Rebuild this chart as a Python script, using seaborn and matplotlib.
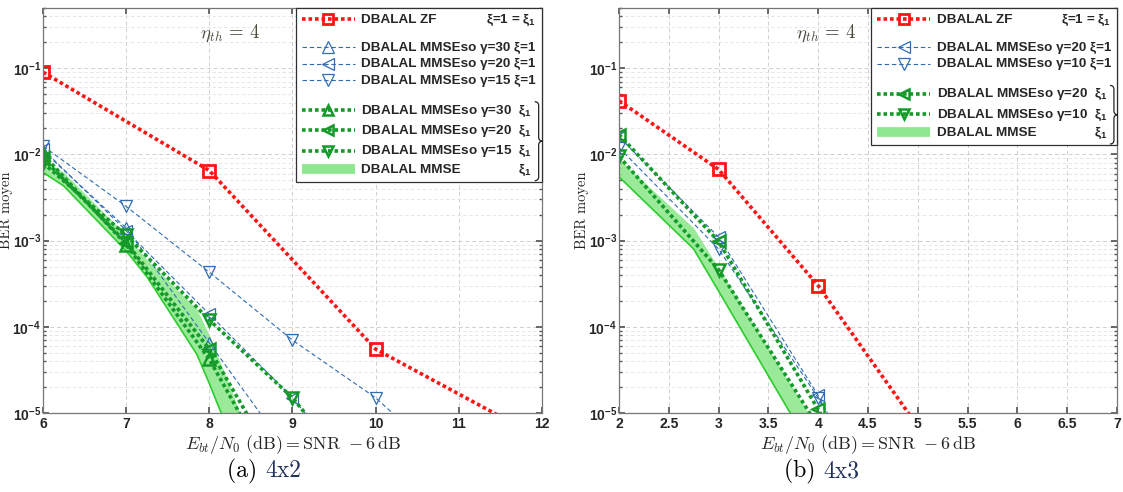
import numpy as np
import pandas as pd
import matplotlib
matplotlib.use("Agg")
import matplotlib.pyplot as plt
import seaborn as sns
from matplotlib.lines import Line2D
from matplotlib.path import Path
from matplotlib.patches import PathPatch
from matplotlib.ticker import LogLocator, MultipleLocator, NullFormatter, FuncFormatter

# ---------------- (a) 4x2 ----------------
zf_x_a = [6, 8, 10, 12]
zf_a = [9.0e-2, 6.5e-3, 5.5e-5, 5.0e-6]

b30_x_a = [6, 7, 8, 9]
b30_a = [1.10e-2, 1.40e-3, 6.5e-5, 3.0e-6]
b20_x_a = [6, 7, 8, 9, 10]
b20_a = [1.15e-2, 1.30e-3, 1.40e-4, 1.5e-5, 1.0e-6]
b15_x_a = [6, 7, 8, 9, 10, 11]
b15_a = [1.25e-2, 2.50e-3, 4.30e-4, 7.0e-5, 1.5e-5, 2.0e-6]

g30_x_a = [6, 7, 8, 9]
g30_a = [1.00e-2, 9.0e-4, 4.2e-5, 8.0e-7]
g20_x_a = [6, 7, 8, 9]
g20_a = [9.0e-3, 9.5e-4, 5.5e-5, 1.2e-6]
g15_x_a = [6, 7, 8, 9, 10]
g15_a = [8.0e-3, 1.15e-3, 1.2e-4, 1.5e-5, 1.0e-6]

band_x_a = [6, 6.25, 7, 7.25, 7.85, 8, 8.25, 8.5]
band_hi_a = [8.5e-3, 6.2e-3, 1.15e-3, 6.0e-4, 1.6e-4, 8.0e-5, 2.0e-5, 4.5e-6]
band_lo_a = [6.2e-3, 4.3e-3, 7.6e-4, 3.8e-4, 4.8e-5, 2.2e-5, 5.5e-6, 1.5e-6]

# ---------------- (b) 4x3 ----------------
zf_x_b = [2, 3, 4, 5]
zf_b = [4.2e-2, 6.7e-3, 3.0e-4, 7.0e-6]

b20_x_b = [2, 3, 4, 5]
b20_b = [1.6e-2, 1.1e-3, 1.6e-5, 1.0e-7]
b10_x_b = [2, 3, 4, 5]
b10_b = [1.2e-2, 8.0e-4, 1.5e-5, 1.0e-7]

g20_x_b = [2, 3, 4, 5]
g20_b = [1.7e-2, 9.8e-4, 1.1e-5, 1.0e-7]
g10_x_b = [2, 3, 4]
g10_b = [9.5e-3, 4.6e-4, 7.0e-6]

band_x_b = [2, 2.75, 3, 3.5, 4]
band_hi_b = [8.9e-3, 1.4e-3, 4.8e-4, 5.6e-5, 6.5e-6]
band_lo_b = [5.5e-3, 8.0e-4, 2.6e-4, 2.7e-5, 2.8e-6]

labels_a = ["DBALAL ZF", " ",
            "DBALAL MMSEso γ=30 ξ=1", "DBALAL MMSEso γ=20 ξ=1", "DBALAL MMSEso γ=15 ξ=1", " ",
            "DBALAL MMSEso γ=30  ξ$_\\mathdefault{1}$", "DBALAL MMSEso γ=20  ξ$_\\mathdefault{1}$",
            "DBALAL MMSEso γ=15  ξ$_\\mathdefault{1}$", "DBALAL MMSE"]
labels_b = ["DBALAL ZF", " ",
            "DBALAL MMSEso γ=20 ξ=1", "DBALAL MMSEso γ=10 ξ=1", " ",
            "DBALAL MMSEso γ=20  ξ$_\\mathdefault{1}$", "DBALAL MMSEso γ=10  ξ$_\\mathdefault{1}$",
            "DBALAL MMSE"]

RED = "#ff1414"
BLUE = "#2f6db3"
GREEN = "#139a28"
BAND = "#8fe88f"
BAND_EDGE = "#2bcc2b"
LEG_SIZE = 9.7

sns.set_theme(style="ticks")
plt.rcParams["font.family"] = ["Liberation Sans", "DejaVu Sans"]
plt.rcParams["font.weight"] = "bold"
plt.rcParams["mathtext.fontset"] = "dejavusans"

fig = plt.figure(figsize=(11.23, 4.92), dpi=100)
ax_a = fig.add_axes([43 / 1123, 1 - 413 / 492, 499 / 1123, 405 / 492])
ax_b = fig.add_axes([619 / 1123, 1 - 413 / 492, 498 / 1123, 405 / 492])


def curve(ax, x, y, kind, marker=None):
    if kind == "zf":
        st = dict(color=RED, linestyle=(0, (1, 0.8)), linewidth=2.6, marker=marker,
                  markersize=8, markeredgewidth=2.0)
    elif kind == "blue":
        st = dict(color=BLUE, linestyle=(0, (4, 2.5)), linewidth=0.8, marker=marker,
                  markersize=9, markeredgewidth=0.9)
    else:
        st = dict(color=GREEN, linestyle=(0, (1, 0.8)), linewidth=2.6, marker=marker,
                  markersize=8, markeredgewidth=1.8)
    sns.lineplot(x=x, y=y, ax=ax, markerfacecolor="none", markeredgecolor=st["color"],
                 sort=False, errorbar=None, **st)
    return Line2D([], [], markerfacecolor="none", markeredgecolor=st["color"],
                  **{**st, "markersize": st["markersize"] - 1})


def band(ax, x, lo, hi):
    ax.fill_between(x, lo, hi, color=BAND, alpha=0.9, linewidth=0)
    sns.lineplot(x=x, y=lo, ax=ax, color=BAND_EDGE, linewidth=1.2, sort=False, errorbar=None)
    return Line2D([], [], color=BAND, linewidth=7, solid_capstyle="butt")


def blank():
    return Line2D([], [], color="none")


def style_axes(ax, xmin, xmax, xstep):
    ax.set_yscale("log")
    ax.set_xlim(xmin, xmax)
    ax.set_ylim(1e-5, 0.5)
    ax.xaxis.set_major_locator(MultipleLocator(xstep))
    ax.xaxis.set_major_formatter(FuncFormatter(lambda v, p: "%g" % v))
    ax.yaxis.set_major_locator(LogLocator(base=10))
    ax.yaxis.set_minor_locator(LogLocator(base=10, subs=np.arange(2, 10)))
    ax.yaxis.set_minor_formatter(NullFormatter())
    ax.grid(True, which="major", color="#cfcfcf", linestyle=(0, (4, 3)), linewidth=0.7)
    ax.grid(True, which="minor", axis="y", color="#e2e2e2", linestyle=(0, (4, 3)), linewidth=0.6)
    ax.tick_params(which="both", direction="in", top=True, right=True, color="#555555",
                   labelsize=10, pad=3)
    ax.tick_params(axis="y", which="major", pad=1.5)
    ax.tick_params(which="major", length=4)
    ax.tick_params(which="minor", length=2)
    for lab in ax.get_xticklabels() + ax.get_yticklabels():
        lab.set_fontweight("bold")
    for sp in ax.spines.values():
        sp.set_color("#777777")
        sp.set_linewidth(0.9)
    ax.set_xlabel(r"$E_{bt}/N_0\ \mathrm{(dB)} = \mathrm{SNR}\ - 6\,\mathrm{dB}$",
                  fontsize=13, fontweight="normal", math_fontfamily="cm", labelpad=1)
    ax.set_ylabel("BER moyen", fontsize=10.5, fontweight="normal", family="cmr10")
    ax.yaxis.set_label_coords(-0.06, 0.5)


def finish_legend(ax, handles, labels, zf_row, blue_rows, green_rows, mmse_row):
    leg = ax.legend(handles, labels, loc="upper right", borderaxespad=0, fancybox=False,
                    edgecolor="#303030", framealpha=1, labelspacing=0.32,
                    handlelength=3.9, handletextpad=0.5, borderpad=0.45, handleheight=0.2,
                    prop={"weight": "bold", "size": LEG_SIZE})
    leg.get_frame().set_linewidth(0.9)
    for t in leg.get_texts():
        if t.get_text().strip() == "":
            t.set_fontsize(0.5)
    fig.canvas.draw()
    r = fig.canvas.get_renderer()
    inv = fig.transFigure.inverted()
    texts = leg.get_texts()

    def base(t):
        bb = t.get_window_extent(r)
        _, _, d = r.get_text_width_height_descent("lp", t.get_fontproperties(), ismath=False)
        return bb.y0 + d

    right_blue = max(texts[i].get_window_extent(r).x1 for i in blue_rows)
    x, y = inv.transform((right_blue, base(texts[zf_row])))
    fig.text(x, y, "ξ=1 = ξ$_\\mathdefault{1}$", ha="right", va="baseline", fontsize=LEG_SIZE,
             fontweight="bold")
    gbb = texts[green_rows[0]].get_window_extent(r)
    x, y = inv.transform((gbb.x1, base(texts[mmse_row])))
    fig.text(x, y, "ξ$_\\mathdefault{1}$", ha="right", va="baseline", fontsize=LEG_SIZE,
             fontweight="bold")
    # brace grouping the green rows
    x0 = gbb.x1 + 3
    yt = gbb.y1 + 1
    yb = texts[mmse_row].get_window_extent(r).y0 - 5
    ym = 0.5 * (yt + yb)
    w, rr = 8, 4
    pts = [(x0, yt), (x0 + w / 2, yt), (x0 + w / 2, yt - rr), (x0 + w / 2, ym + rr),
           (x0 + w / 2, ym), (x0 + w, ym), (x0 + w / 2, ym), (x0 + w / 2, ym - rr),
           (x0 + w / 2, yb + rr), (x0 + w / 2, yb), (x0, yb)]
    codes = [Path.MOVETO, Path.CURVE3, Path.CURVE3, Path.LINETO, Path.CURVE3, Path.CURVE3,
             Path.CURVE3, Path.CURVE3, Path.LINETO, Path.CURVE3, Path.CURVE3]
    pts = [tuple(inv.transform(p)) for p in pts]
    fig.add_artist(PathPatch(Path(pts, codes), fill=False, lw=0.9, color="#222222",
                             transform=fig.transFigure))


# ---------------- panel (a) ----------------
style_axes(ax_a, 6, 12, 1)
h_band = band(ax_a, band_x_a, band_lo_a, band_hi_a)
h_b30 = curve(ax_a, b30_x_a, b30_a, "blue", "^")
h_b20 = curve(ax_a, b20_x_a, b20_a, "blue", "<")
h_b15 = curve(ax_a, b15_x_a, b15_a, "blue", "v")
h_g30 = curve(ax_a, g30_x_a, g30_a, "green", "^")
h_g20 = curve(ax_a, g20_x_a, g20_a, "green", "<")
h_g15 = curve(ax_a, g15_x_a, g15_a, "green", "v")
h_zf = curve(ax_a, zf_x_a, zf_a, "zf", "s")
style_axes(ax_a, 6, 12, 1)
ax_a.text(0.375, 0.965, r"$\eta_{th}\,=\,4$", transform=ax_a.transAxes, ha="center", va="top",
          fontsize=13.5, color="#4a4a3c", math_fontfamily="cm")

# ---------------- panel (b) ----------------
style_axes(ax_b, 2, 7, 0.5)
h2_band = band(ax_b, band_x_b, band_lo_b, band_hi_b)
h2_b20 = curve(ax_b, b20_x_b, b20_b, "blue", "<")
h2_b10 = curve(ax_b, b10_x_b, b10_b, "blue", "v")
h2_g20 = curve(ax_b, g20_x_b, g20_b, "green", "<")
h2_g10 = curve(ax_b, g10_x_b, g10_b, "green", "v")
h2_zf = curve(ax_b, zf_x_b, zf_b, "zf", "s")
style_axes(ax_b, 2, 7, 0.5)
ax_b.text(0.415, 0.965, r"$\eta_{th}\,=\,4$", transform=ax_b.transAxes, ha="center", va="top",
          fontsize=13.5, color="#4a4a3c", math_fontfamily="cm")

finish_legend(ax_a, [h_zf, blank(), h_b30, h_b20, h_b15, blank(), h_g30, h_g20, h_g15, h_band],
              labels_a, 0, [2, 3, 4], [6, 7, 8], 9)
finish_legend(ax_b, [h2_zf, blank(), h2_b20, h2_b10, blank(), h2_g20, h2_g10, h2_band],
              labels_b, 0, [2, 3], [5, 6], 7)

# captions
for cx, tag, size in [(265, "(a)", "4x2"), (823, "(b)", "4x3")]:
    fig.text(cx / 1123, 0.03, tag + " ", ha="right", va="baseline", fontsize=17,
             family="cmr10", fontweight="normal", color="black")
    fig.text(cx / 1123, 0.03, size, ha="left", va="baseline", fontsize=17,
             family="cmr10", fontweight="normal", color="#23305a")

fig.savefig("out.png", dpi=100)
